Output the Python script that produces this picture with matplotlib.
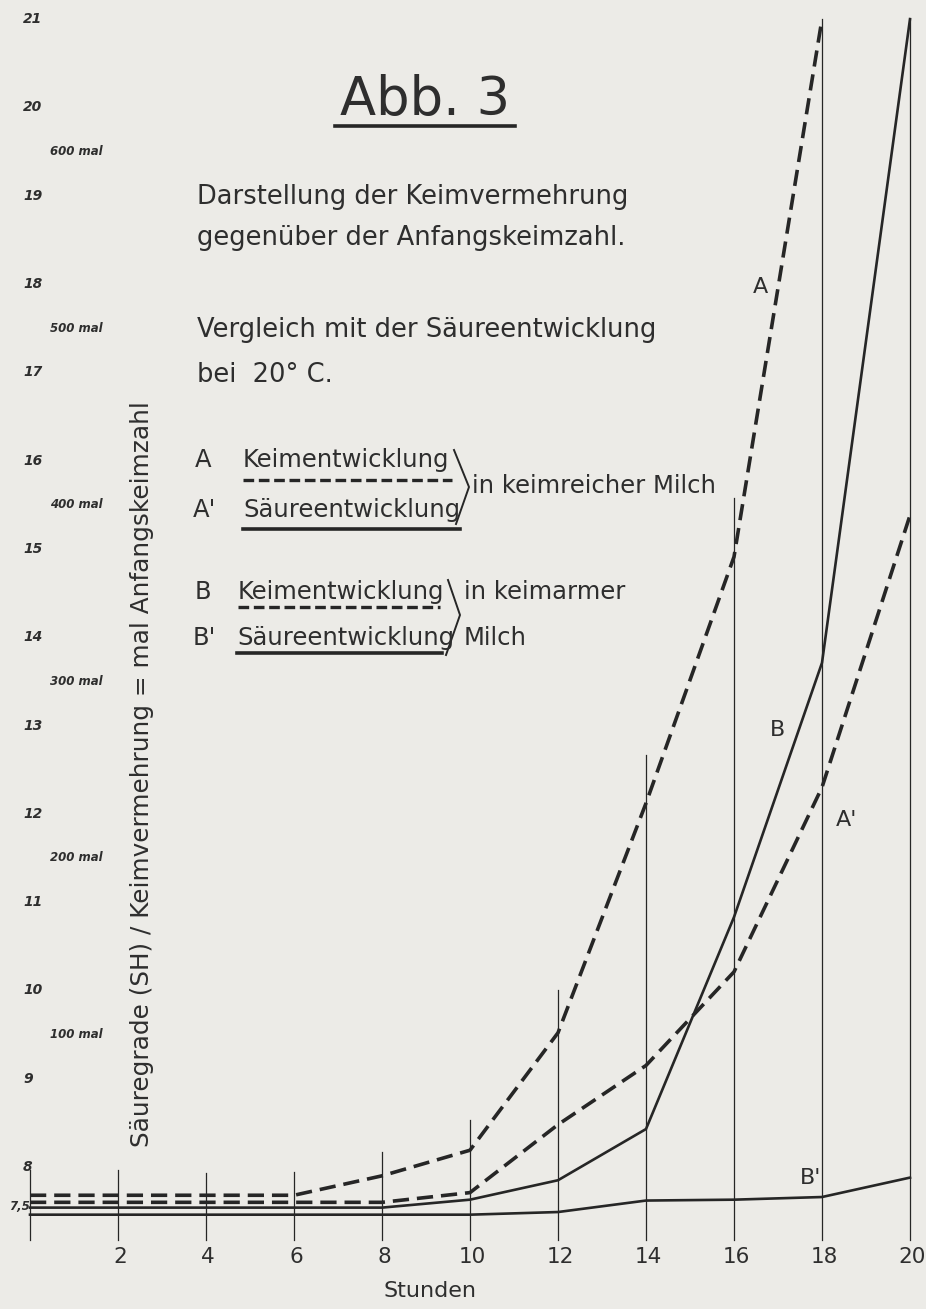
import numpy as np
import matplotlib.pyplot as plt

# Stunden (x) und Saeuregrade SH (y); Keimvermehrung = (SH - 7.5) * 50 mal
hours = [0, 2, 4, 6, 8, 10, 12, 14, 16, 18, 20]
curve_A = [7.68, 7.68, 7.68, 7.68, 7.90, 8.19, 9.52, 12.12, 14.91, 21.0]      # Keime, keimreich (bis 18 h)
curve_A2 = [7.60, 7.60, 7.60, 7.60, 7.60, 7.71, 8.48, 9.15, 10.21, 12.30, 15.38]
curve_B = [7.54, 7.54, 7.54, 7.54, 7.54, 7.63, 7.85, 8.43, 10.83, 13.71, 21.0]
curve_B2 = [7.46, 7.46, 7.46, 7.46, 7.46, 7.46, 7.49, 7.62, 7.63, 7.66, 7.88]
grid_tops = [7.97, 7.97, 7.93, 7.94, 8.17, 8.53, 10.0, 12.67, 15.58, 21.0, 21.0]
grid_bottom = 7.17

sh_ticks = [21, 20, 19, 18, 17, 16, 15, 14, 13, 12, 11, 10, 9, 8]
mal_ticks = [600, 500, 400, 300, 200, 100]
xtick_labels = ['2', '4', '6', '8', '10', '12', '14', '16', '18', '20']

W, H = 926, 1309
paper = '#ecebe7'
ink = '#262626'
txt = '#2e2e2e'
FONT = ['DejaVu Sans']
FS = 17.5

fig = plt.figure(figsize=(W / 100, H / 100), dpi=100, facecolor=paper)
ax = fig.add_axes([0, 0, 1, 1])
ax.set_facecolor(paper)
# 44 px per hour, 0 h at px 30; 88.3 px per SH unit, 8 SH at px 1167
ax.set_xlim(-30 / 44, (W - 30) / 44)
ax.set_ylim(8 - (H - 1167) / 88.3, 8 + 1167 / 88.3)
ax.axis('off')


def px(x, y):
    return x / W, 1 - y / H


# vertical hour lines
for h, top in zip(hours, grid_tops):
    ax.plot([h, h], [grid_bottom, top], color=ink, lw=0.9, clip_on=False)

dash = dict(color=ink, lw=2.6, dashes=(4.5, 2.2), dash_capstyle='butt')
solid = dict(color=ink, lw=1.9, solid_joinstyle='miter')
ax.plot(hours[:len(curve_A)], curve_A, clip_on=False, **dash)
ax.plot(hours, curve_A2, clip_on=False, **dash)
ax.plot(hours, curve_B, clip_on=False, **solid)
ax.plot(hours, curve_B2, clip_on=False, **solid)

# curve labels
ax.text(16.6, 17.97, 'A', fontsize=16, color=txt, family=FONT, ha='center', va='center')
ax.text(16.98, 12.95, 'B', fontsize=16, color=txt, family=FONT, ha='center', va='center')
ax.text(18.55, 11.93, "A'", fontsize=16, color=txt, family=FONT, ha='center', va='center')
ax.text(17.75, 7.87, "B'", fontsize=16, color=txt, family=FONT, ha='center', va='center')

# left scale, handwritten style
for v in sh_ticks:
    ax.text(-0.16, v, str(v), fontsize=10, color=txt, style='italic', weight='bold',
            ha='left', va='center')
ax.text(-0.48, 7.55, '7,5', fontsize=8.5, color=txt, style='italic', weight='bold',
        ha='left', va='center')
for m in mal_ticks:
    ax.text(0.45, 7.5 + m / 50, f'{m} mal', fontsize=8.5, color=txt, style='italic',
            weight='bold', ha='left', va='center')

# hour tick labels
for h, lab in zip(hours[1:], xtick_labels):
    ax.text(h + 0.05, 6.98, lab, fontsize=15.5, color=txt, family=FONT, ha='center', va='center')
ax.text(9.1, 6.6, 'Stunden', fontsize=16, color=txt, family=FONT, ha='center', va='center')

ax.text(2.55, 12.45, 'Säuregrade (SH) / Keimvermehrung = mal Anfangskeimzahl', fontsize=17.8,
        color=txt, family=FONT, rotation=90, ha='center', va='center')

# title and description
fig.text(*px(425, 100), 'Abb. 3', fontsize=38, color=txt, family=FONT, ha='center', va='center')
fig.lines.append(plt.Line2D([335 / W, 515 / W], [1 - 126 / H] * 2, color=ink, lw=2.6,
                            transform=fig.transFigure))
desc = [(197, 'Darstellung der Keimvermehrung'),
        (238, 'gegenüber der Anfangskeimzahl.'),
        (330, 'Vergleich mit der Säureentwicklung'),
        (375, 'bei  20° C.')]
for y, s in desc:
    fig.text(*px(197, y), s, fontsize=18.5, color=txt, family=FONT, ha='left', va='center')

# legend block
leg = [(195, 243, 460, 'A', 'Keimentwicklung', 480, 452, True),
       (193, 243, 510, "A'", 'Säureentwicklung', 529, 460, False),
       (195, 238, 592, 'B', 'Keimentwicklung', 607, 440, True),
       (193, 237, 638, "B'", 'Säureentwicklung', 653, 442, False)]
for xl, xt, y, key, s, yu, xe, dashed in leg:
    fig.text(*px(xl, y), key, fontsize=FS, color=txt, family=FONT, ha='left', va='center')
    fig.text(*px(xt, y), s, fontsize=FS, color=txt, family=FONT, ha='left', va='center')
    style = dict(dashes=(3.2, 1.4), lw=2.4) if dashed else dict(lw=2.6)
    fig.lines.append(plt.Line2D([xt / W, xe / W], [1 - yu / H] * 2, color=ink,
                                transform=fig.transFigure, **style))

for (x0, y0), (x1, y1), (x2, y2) in [((454, 450), (469, 487), (456, 524)),
                                     ((448, 580), (460, 615), (446, 655))]:
    fig.lines.append(plt.Line2D([x0 / W, x1 / W, x2 / W], [1 - y0 / H, 1 - y1 / H, 1 - y2 / H],
                                color=ink, lw=1.4, transform=fig.transFigure))
fig.text(*px(472, 486), 'in keimreicher Milch', fontsize=FS, color=txt, family=FONT,
         ha='left', va='center')
fig.text(*px(464, 592), 'in keimarmer', fontsize=FS, color=txt, family=FONT,
         ha='left', va='center')
fig.text(*px(464, 638), 'Milch', fontsize=FS, color=txt, family=FONT, ha='left', va='center')

fig.savefig('out.png', dpi=100, facecolor=paper)
